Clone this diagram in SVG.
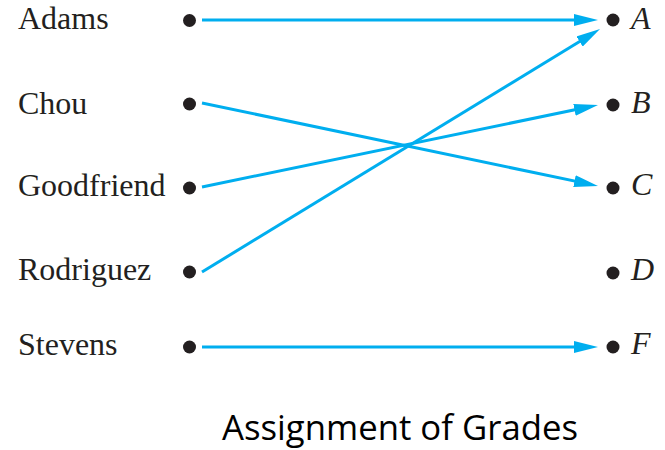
<svg xmlns="http://www.w3.org/2000/svg" width="665" height="450" viewBox="0 0 665 450">
<style>
.lbl{font-family:"Liberation Serif","Times New Roman",serif;font-size:32px;fill:#231f20}
.grade{font-family:"Liberation Serif","Times New Roman",serif;font-size:32px;font-style:italic;fill:#231f20}
.dot{fill:#231f20}
.edge{stroke:#00aeef;stroke-width:3;fill:none;marker-end:url(#arr)}
.cap{font-family:"Open Sans","DejaVu Sans",sans-serif;font-size:34px;fill:#000}
</style>
<defs>
<marker id="arr" markerUnits="userSpaceOnUse" markerWidth="24" markerHeight="12" refX="14" refY="6" orient="auto" viewBox="0 0 24 12">
<path d="M0,0 L24,6 L0,12 z" fill="#00aeef"/>
</marker>
</defs>
<g id="adams"><text class="lbl" x="18" y="29">Adams</text><circle class="dot" cx="189.5" cy="20.5" r="6.5"/></g>
<g id="chou"><text class="lbl" x="18" y="114">Chou</text><circle class="dot" cx="189.5" cy="104" r="6.5"/></g>
<g id="goodfriend"><text class="lbl" x="18" y="196">Goodfriend</text><circle class="dot" cx="189.5" cy="188" r="6.5"/></g>
<g id="rodriguez"><text class="lbl" x="18" y="280">Rodriguez</text><circle class="dot" cx="189.5" cy="272" r="6.5"/></g>
<g id="stevens"><text class="lbl" x="18" y="355">Stevens</text><circle class="dot" cx="189.5" cy="347" r="6.5"/></g>
<g id="gradeA"><circle class="dot" cx="613" cy="20" r="6.5"/><text class="grade" x="631" y="29">A</text></g>
<g id="gradeB"><circle class="dot" cx="613" cy="105" r="6.5"/><text class="grade" x="631" y="113">B</text></g>
<g id="gradeC"><circle class="dot" cx="613" cy="188" r="6.5"/><text class="grade" x="631" y="195">C</text></g>
<g id="gradeD"><circle class="dot" cx="613" cy="273" r="6.5"/><text class="grade" x="631" y="280">D</text></g>
<g id="gradeF"><circle class="dot" cx="613" cy="347" r="6.5"/><text class="grade" x="631" y="354">F</text></g>
<g id="connectors">
<path class="edge" d="M202,20 L588,20"/>
<path class="edge" d="M202,103 L588.2,183.9"/>
<path class="edge" d="M202,187 L588.2,107"/>
<path class="edge" d="M202,272 L591.5,34.2"/>
<path class="edge" d="M202,347 L588,347"/>
</g>
<text class="cap" x="222" y="440" textLength="356" lengthAdjust="spacingAndGlyphs">Assignment of Grades</text>
</svg>
